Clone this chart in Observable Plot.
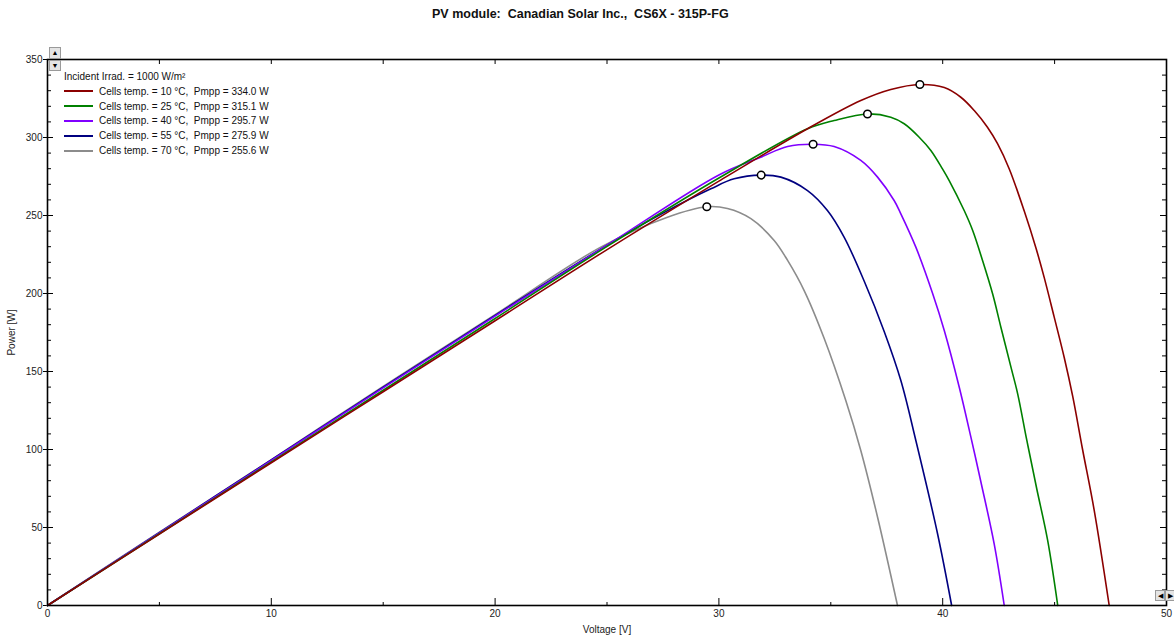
<!DOCTYPE html>
<html><head><meta charset="utf-8">
<script src="https://cdn.jsdelivr.net/npm/d3@7"></script>
<script src="https://cdn.jsdelivr.net/npm/@observablehq/plot@0.6"></script>
<style>
body{margin:0;background:#fff;font-family:"Liberation Sans",Arial,sans-serif;}
#wrap{position:relative;width:1174px;height:637px;overflow:hidden;}
#title{height:30px;line-height:28px;font-weight:bold;font-size:12.5px;white-space:pre;padding-left:432px;color:#111;box-sizing:border-box;}
#legend{position:absolute;left:64px;top:69px;font-size:10px;color:#111;white-space:pre;}
#legend .hd{height:15px;line-height:15px;}
#legend .row{height:14.8px;display:flex;align-items:center;}
#legend .sw{width:29px;height:2px;margin-right:6px;}
.btn{position:absolute;background:#e4e4e4;border:1px solid #9a9a9a;box-sizing:border-box;font-size:7px;line-height:9px;text-align:center;color:#000;}
</style>
</head><body>
<div id="wrap">
<div id="title">PV module:  Canadian Solar Inc.,  CS6X - 315P-FG</div>
<div id="chart"></div>
<div id="legend"></div>
<div class="btn" style="left:49px;top:47px;width:12px;height:12px;">▲</div>
<div class="btn" style="left:49px;top:60px;width:12px;height:11px;">▼</div>
<div class="btn" style="left:1155px;top:590px;width:10px;height:11px;">◀</div>
<div class="btn" style="left:1165px;top:590px;width:10px;height:11px;">▶</div>
</div>
<script>
// ---- data ----
const seriesNames = ["Cells temp. = 10 °C,  Pmpp = 334.0 W","Cells temp. = 25 °C,  Pmpp = 315.1 W","Cells temp. = 40 °C,  Pmpp = 295.7 W","Cells temp. = 55 °C,  Pmpp = 275.9 W","Cells temp. = 70 °C,  Pmpp = 255.6 W"];
const seriesColors = ["#8b0000","#008000","#8000ff","#000080","#8c8c8c"];
const legendHeader = "Incident Irrad. = 1000 W/m²";

const v10 = [0,5,10,15,20,24.7,30,33.96,36.34,37.68,38.98,40.07,40.81,41.41,42.0,42.45,42.97,43.64,44.17,44.54,44.98,45.43,45.81,46.25,46.77,47.44];
const p10 = [0,45.8,91.5,137,182.5,225.4,272,305.6,323.7,330.8,334.0,332,325.8,317.3,306.6,296,280,253,229,210,185,159,134,100,61,0];
const v25 = [0,5,10,15,20,24.72,30,33.96,35.15,36.64,37.68,38.28,38.95,39.47,39.99,40.29,40.96,41.34,41.78,42.23,42.60,43.05,43.35,43.76,44.2,44.69,45.14];
const p25 = [0,46,92,138,184,227.6,274,305.6,310.9,315.1,313,308.8,300.2,291.7,279.9,272.4,253.2,240.4,221.2,199.8,178.4,152.8,135.7,105.8,75,41.7,0];
const v40 = [0,5,10,15,20,25,30,31.87,33.07,34.21,35.15,36.34,37.09,37.83,38.13,38.8,39.55,40.07,40.74,41.26,41.71,42.30,42.75];
const p40 = [0,46.5,93,139.5,185.5,231,276,287.4,294.2,295.7,294.2,285.3,274.6,259.6,251.1,229.7,200,176.3,139.9,107.9,79,39.5,0];
const v55 = [0,5,10,15,20,25,27.5,29.64,30.68,31.89,32.77,33.96,34.85,35.6,36.49,37.39,38.13,38.8,39.77,40.40];
const p55 = [0,46.7,93.3,140,186,231,251.5,267.1,273.5,275.9,274.6,266,253.2,236,208,175.5,144.2,105.8,46,0];
const v70 = [0,5,10,15,20,24.72,27.7,29.46,30.38,31.43,32.47,33.07,33.81,34.71,35.67,36.34,37.09,37.98];
const p70 = [0,47,93.5,140.5,186.5,229.7,248.9,255.6,254.5,248,234,221.2,201.9,171,131.4,99.4,56.6,0];
const mppV = [38.98,36.64,34.21,31.89,29.46];
const mppP = [334.0,315.1,295.7,275.9,255.6];

const xLabels = [0,10,20,30,40,50];
const xMinor = [5,15,25,35,45];
const xTop = [5,10,15,20,25,30,35,40,45];
const yLabels = [0,50,100,150,200,250,300,350];
const yMinor = d3.range(10,350,10).filter(d => d % 50 !== 0);

// ---- build table ----
const allV = [v10,v25,v40,v55,v70], allP = [p10,p25,p40,p55,p70];
const rows = [];
allV.forEach((vs,k) => vs.forEach((v,i) => rows.push({series: seriesNames[k], V: v, P: allP[k][i]})));
const drawOrder = [4,3,2,1,0];
const mpp = mppV.map((v,i) => ({V: v, P: mppP[i]}));

const W = 1174, H = 607, mT = 29, mB = 32, mL = 47, mR = 8;
const innerW = W - mL - mR, innerH = H - mT - mB;

const lineMarks = drawOrder.map(k => Plot.line(rows.filter(r => r.series === seriesNames[k]), {
  x: "V", y: "P", stroke: seriesColors[k], strokeWidth: 1.6, curve: "catmull-rom"
}));

const chart = Plot.plot({
  width: W, height: H,
  marginTop: mT, marginBottom: mB, marginLeft: mL, marginRight: mR,
  style: {fontFamily: "'Liberation Sans', Arial, sans-serif", fontSize: "10px", color: "#222", background: "#fff", overflow: "visible"},
  x: {domain: [0, 50]},
  y: {domain: [0, 350]},
  marks: [
    Plot.ruleX(xMinor, {insetTop: innerH - 3, stroke: "#000"}),
    Plot.ruleX(xLabels, {insetTop: innerH - 7, stroke: "#000"}),
    Plot.ruleX(xTop, {insetBottom: innerH - 5, stroke: "#000"}),
    Plot.ruleY(yMinor, {insetRight: innerW - 4, stroke: "#000"}),
    Plot.ruleY(yLabels, {insetLeft: -4, insetRight: innerW - 6, stroke: "#000"}),
    Plot.ruleY(yMinor, {insetLeft: innerW - 4, stroke: "#000"}),
    Plot.ruleY(yLabels, {insetLeft: innerW - 6, stroke: "#000"}),
    ...lineMarks,
    Plot.dot(mpp, {x: "V", y: "P", r: 3.8, fill: "white", stroke: "black", strokeWidth: 1.5}),
    Plot.frame({stroke: "#000", strokeWidth: 1.6}),
    Plot.axisX({ticks: xLabels, tickSize: 0, tickPadding: 4, label: "Voltage [V]", labelAnchor: "center", labelOffset: 27, labelArrow: "none"}),
    Plot.axisY({ticks: yLabels, tickSize: 0, tickPadding: 5, label: "Power [W]", labelAnchor: "center", labelOffset: 40, labelArrow: "none"})
  ]
});
document.getElementById("chart").appendChild(chart);

// ---- legend ----
const lg = document.getElementById("legend");
const hd = document.createElement("div"); hd.className = "hd"; hd.textContent = legendHeader; lg.appendChild(hd);
seriesNames.forEach((n,i) => {
  const r = document.createElement("div"); r.className = "row";
  const s = document.createElement("span"); s.className = "sw"; s.style.background = seriesColors[i];
  const t = document.createElement("span"); t.textContent = n;
  r.appendChild(s); r.appendChild(t); lg.appendChild(r);
});
</script>
</body></html>
